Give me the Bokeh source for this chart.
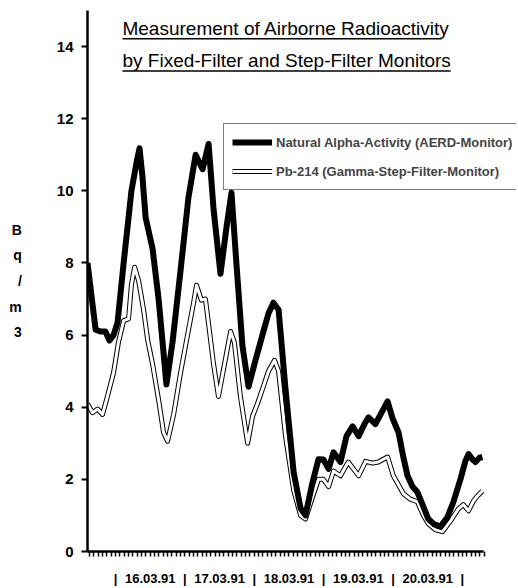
from bokeh.plotting import figure
from bokeh.models import (Range1d, FixedTicker, Label, Legend, LegendItem)
from bokeh.embed import file_html
from bokeh.resources import INLINE

# ---- data (hours since 16.03.91 00:00, Bq/m3) ----
alpha_hours = [-9.7, -6.9, -5.2, -3.5, -2.1, -0.7, 0.7, 2.8, 5.5, 7.3, 8.3, 9.3, 10.4, 12.8,
               14.9, 17.6, 19.7, 22.5, 25.2, 27.7, 30.1, 32.2, 33.9, 36.3, 38.4, 40.1, 41.8,
               43.9, 46.0, 48.4, 50.8, 52.9, 54.6, 56.4, 58.8, 61.6, 64.0, 65.7, 68.1, 70.2,
               71.9, 73.7, 75.4, 77.8, 79.9, 82.0, 84.1, 86.2, 87.5, 89.9, 92.0, 94.1, 95.8,
               97.9, 99.6, 101.0, 102.7, 104.4, 106.2, 108.2, 110.3, 112.4, 114.8, 116.9,
               119.3, 121.0, 122.1, 123.5, 124.5, 125.9, 126.9]
alpha_vals = [8.0, 6.15, 6.1, 6.1, 5.85, 6.0, 6.35, 8.0, 10.0, 10.8, 11.18, 10.4, 9.26, 8.4,
              7.0, 4.63, 5.8, 7.8, 9.8, 11.0, 10.6, 11.3, 9.5, 7.7, 9.0, 9.95, 8.0,
              5.7, 4.57, 5.3, 6.0, 6.6, 6.9, 6.7, 4.5, 2.2, 1.2, 1.0, 1.9, 2.56,
              2.55, 2.29, 2.75, 2.48, 3.2, 3.47, 3.2, 3.55, 3.72, 3.53, 3.85, 4.16, 3.7,
              3.3, 2.6, 2.1, 1.8, 1.65, 1.3, 0.9, 0.75, 0.69, 0.95, 1.38,
              2.0, 2.5, 2.7, 2.55, 2.48, 2.6, 2.62]

pb_hours = [-9.7, -8.0, -6.2, -4.5, -2.8, -0.7, 1.0, 2.8, 4.5, 5.5, 6.6, 8.0, 9.7, 11.1,
            12.8, 14.9, 16.6, 18.0, 20.1, 22.5, 24.9, 27.0, 28.0, 29.7, 31.1, 32.2, 33.9,
            35.6, 37.7, 39.8, 41.1, 43.2, 45.7, 47.4, 49.1, 50.8, 52.9, 55.0, 56.4, 58.8,
            61.6, 64.0, 65.7, 68.1, 70.2, 71.9, 73.7, 75.4, 77.8, 80.5, 84.1, 86.5, 88.9,
            90.9, 94.1, 96.1, 99.6, 102.0, 104.4, 106.5, 108.2, 110.7, 113.1, 115.9,
            118.6, 120.3, 122.1, 123.8, 125.2, 126.9]
pb_vals = [4.1, 3.85, 3.95, 3.8, 4.3, 4.95, 5.8, 6.4, 6.45, 7.4, 7.88, 7.5, 6.7, 5.87,
           5.2, 4.2, 3.3, 3.06, 3.8, 4.96, 6.0, 6.9, 7.38, 6.97, 7.0, 6.3, 5.2,
           4.3, 5.2, 6.1, 5.8, 4.3, 3.0, 3.75, 4.1, 4.5, 5.0, 5.3, 5.0, 3.2,
           1.7, 1.0, 0.9, 1.5, 2.0, 2.0, 1.8, 2.23, 2.1, 2.48, 2.1, 2.5, 2.45,
           2.48, 2.62, 2.1, 1.6, 1.45, 1.38, 1.0, 0.77, 0.6, 0.55, 0.85,
           1.18, 1.3, 1.13, 1.4, 1.54, 1.68]

day_labels = ["16.03.91", "17.03.91", "18.03.91", "19.03.91", "20.03.91"]
day_starts = [0, 24, 48, 72, 96, 120]
y_ticks = [0, 2, 4, 6, 8, 10, 12, 14]
x_tick_step = 1.5  # hours between small x ticks
x_axis_start, x_axis_end = -9.7, 127.3

title_lines = ["Measurement of Airborne Radioactivity",
               "by Fixed-Filter and Step-Filter Monitors"]
legend_labels = ["Natural Alpha-Activity (AERD-Monitor)",
                 "Pb-214 (Gamma-Step-Filter-Monitor)"]
y_unit = "B\nq\n/\nm\n3"

FONT = "Liberation Sans"

# frame extends right past the axis end so the legend stays inside it
p = figure(width=518, height=588, output_backend="svg", toolbar_location=None,
           x_range=Range1d(x_axis_start, 138.7), y_range=Range1d(0, 15),
           min_border_left=87, min_border_right=2, min_border_top=10,
           min_border_bottom=35)
p.outline_line_color = None
p.xgrid.visible = False
p.ygrid.visible = False
p.background_fill_color = "white"
p.border_fill_color = "white"

# y axis
ya = p.yaxis[0]
ya.ticker = FixedTicker(ticks=y_ticks, minor_ticks=[])
ya.axis_line_width = 2.5
ya.axis_line_color = "black"
ya.major_tick_out = 6
ya.major_tick_in = 0
ya.major_tick_line_width = 2
ya.minor_tick_out = 0
ya.minor_tick_in = 0
ya.major_label_standoff = 8
ya.major_label_text_font = FONT
ya.major_label_text_font_size = "15px"
ya.major_label_text_font_style = "bold"
ya.major_label_text_color = "black"
ya.axis_label = y_unit
ya.axis_label_orientation = "horizontal"
ya.axis_label_text_font = FONT
ya.axis_label_text_font_size = "14px"
ya.axis_label_text_font_style = "bold"
ya.axis_label_text_color = "black"
ya.axis_label_text_line_height = 1.6
ya.axis_label_standoff = 32

# x axis: small ticks every 1.5 h, day labels and separators as tick labels
xa = p.xaxis[0]
n_ticks = int(round((x_axis_end - (-9.0)) / x_tick_step)) + 1
xticks = [-9.0 + x_tick_step * i for i in range(n_ticks)]
xa.ticker = FixedTicker(ticks=xticks, minor_ticks=[])
ov = {t: "" for t in xticks}
for s in day_starts:
    ov[float(s)] = "|"
for s, lab in zip(day_starts[:-1], day_labels):
    ov[float(s + 12)] = lab
xa.major_label_overrides = ov
xa.bounds = (x_axis_start, x_axis_end)
xa.axis_line_width = 2.5
xa.axis_line_color = "black"
xa.major_tick_out = 5
xa.major_tick_in = 0
xa.major_tick_line_width = 1.5
xa.minor_tick_out = 0
xa.minor_tick_in = 0
xa.major_label_standoff = 14
xa.major_label_text_font = FONT
xa.major_label_text_font_size = "13px"
xa.major_label_text_font_style = "bold"
xa.major_label_text_color = "black"

# series
pb_outer = p.line(pb_hours, pb_vals, line_color="black", line_width=5, line_join="round")
pb_inner = p.line(pb_hours, pb_vals, line_color="white", line_width=3, line_join="round")
al = p.line(alpha_hours, alpha_vals, line_color="black", line_width=6, line_join="round")

leg = Legend(items=[LegendItem(label=legend_labels[0], renderers=[al]),
                    LegendItem(label=legend_labels[1], renderers=[pb_outer, pb_inner])],
             location=(136, 361))
leg.border_line_color = "black"
leg.border_line_width = 1
leg.background_fill_alpha = 0
leg.label_text_font = FONT
leg.label_text_font_size = "13px"
leg.label_text_font_style = "bold"
leg.label_standoff = 4
leg.glyph_width = 40
leg.glyph_height = 20
leg.label_height = 20
leg.spacing = 9
leg.padding = 8
p.add_layout(leg)

# title (underlined)
for txt, yv in zip(title_lines, [14.50, 13.62]):
    p.add_layout(Label(x=2.4, y=yv, text=txt, text_font=FONT, text_font_size="19px",
                       text_baseline="middle", text_align="left", text_color="black"))

p.line([2.4, 112.8], [14.22, 14.22], line_color="black", line_width=1.5)
p.line([2.4, 115.9], [13.32, 13.32], line_color="black", line_width=1.5)

open("out.html", "w").write(file_html(p, INLINE))
